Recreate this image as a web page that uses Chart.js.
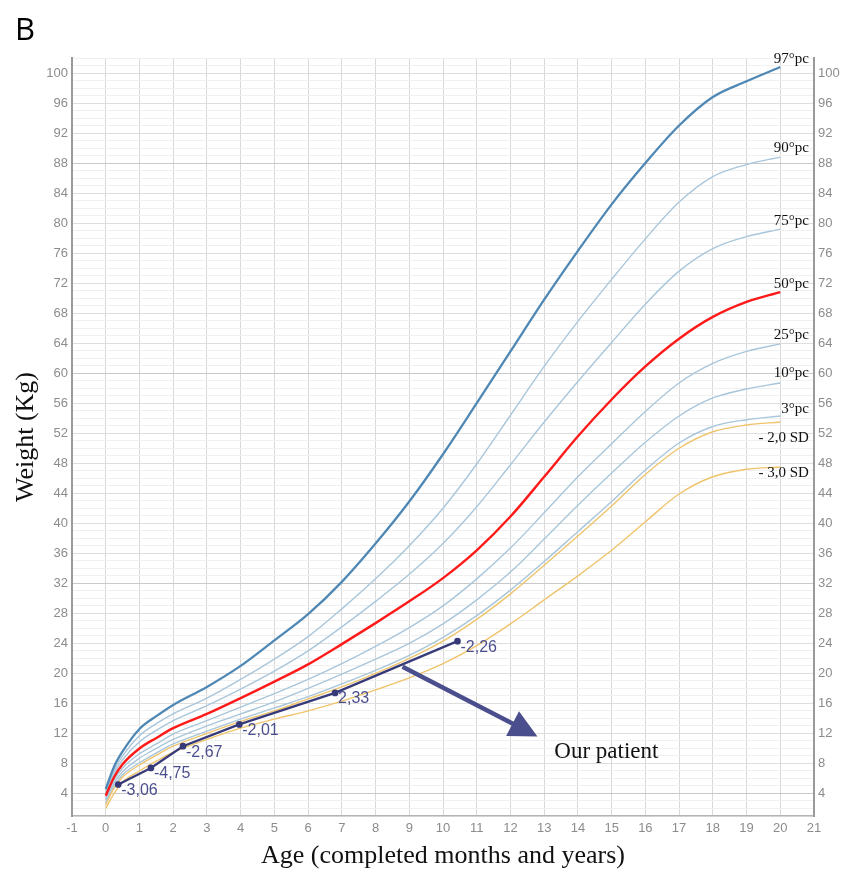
<!DOCTYPE html>
<html lang="en">
<head>
<meta charset="UTF-8">
<title>Weight for age</title>
<script src="https://cdn.jsdelivr.net/npm/chart.js@4.4.0/dist/chart.umd.min.js"></script>
<style>
    html, body { margin: 0; padding: 0; background: #ffffff; }
    canvas { display: block; }
</style>
</head>
<body>
<canvas id="growthChart" width="843" height="872"></canvas>
<script>
    // reference curves, kg by age (years)
    const ages = [0, 0.25, 0.5, 1, 1.5, 2, 3, 4, 5, 6, 7, 8, 9, 10, 11, 12, 13, 14, 15, 16, 17, 18, 19, 20];
    const p97  = [4.6, 7.6, 9.6, 12.6, 14.3, 15.8, 18.2, 21.0, 24.4, 27.9, 32.2, 37.3, 42.9, 49.2, 56.0, 62.9, 69.8, 76.3, 82.5, 88.0, 93.0, 96.8, 98.9, 100.8];
    const p90  = [4.3, 7.1, 9.0, 11.7, 13.3, 14.6, 16.7, 19.2, 21.9, 24.9, 28.6, 32.6, 37.0, 42.0, 47.9, 54.4, 60.9, 66.9, 72.5, 77.9, 82.8, 86.2, 87.8, 88.8];
    const p75  = [4.0, 6.7, 8.5, 10.9, 12.4, 13.7, 15.7, 17.9, 20.3, 23.0, 26.2, 29.6, 33.2, 37.3, 42.2, 47.8, 53.5, 58.9, 64.1, 69.2, 73.6, 76.6, 78.2, 79.2];
    const p50  = [3.7, 6.2, 7.9, 10.0, 11.4, 12.7, 14.6, 16.7, 18.9, 21.2, 23.9, 26.7, 29.6, 32.7, 36.4, 40.9, 46.2, 51.6, 56.5, 60.9, 64.6, 67.5, 69.5, 70.8];
    const p25  = [3.4, 5.8, 7.4, 9.3, 10.6, 11.9, 13.7, 15.5, 17.3, 19.2, 21.3, 23.6, 26.1, 29.0, 32.6, 36.7, 41.4, 46.2, 50.6, 54.9, 58.7, 61.3, 62.9, 63.9];
    const p10  = [3.1, 5.4, 6.9, 8.7, 10.0, 11.2, 13.0, 14.6, 16.2, 18.0, 19.9, 21.9, 24.0, 26.6, 29.8, 33.5, 37.9, 42.4, 46.7, 50.8, 54.3, 56.7, 57.9, 58.7];
    const p3   = [2.8, 5.0, 6.5, 8.1, 9.4, 10.6, 12.3, 13.9, 15.4, 16.9, 18.6, 20.4, 22.4, 24.8, 27.7, 31.1, 34.9, 38.9, 42.9, 47.1, 50.7, 52.9, 53.8, 54.3];
    const sdm2 = [2.5, 4.7, 6.2, 7.8, 9.1, 10.3, 12.0, 13.6, 15.0, 16.6, 18.2, 20.0, 22.0, 24.3, 27.2, 30.6, 34.4, 38.3, 42.3, 46.5, 50.0, 52.2, 53.1, 53.5];
    const sdm3 = [2.0, 4.0, 5.5, 7.0, 8.3, 9.5, 11.2, 12.7, 13.9, 15.0, 16.3, 17.8, 19.4, 21.3, 23.7, 26.6, 29.8, 33.0, 36.4, 40.2, 43.9, 46.2, 47.2, 47.5];
    const curveNames = ["97°pc", "90°pc", "75°pc", "50°pc", "25°pc", "10°pc", "3°pc", "- 2,0 SD", "- 3,0 SD"];

    // patient measurements
    const patientAge = [0.37, 1.34, 2.29, 3.96, 6.8, 10.43];
    const patientWeight = [5.2, 7.4, 10.3, 13.2, 17.4, 24.3];
    const patientSds = ["-3,06", "-4,75", "-2,67", "-2,01", "2,33", "-2,26"];

    // arrow pointing to the patient line (age, kg)
    const arrowFrom = [8.8, 20.9];
    const arrowTo = [12.8, 11.6];
    const arrowText = "Our patient";
    const arrowTextAt = [13.3, 9.6];

    const curves = [p97, p90, p75, p50, p25, p10, p3, sdm2, sdm3];
    const LIGHT = "#a9c6db";
    const YELLOW = "#efc46c";
    const curveStyle = [
        { color: "#4f88b4", width: 2.3, order: 3 },
        { color: LIGHT, width: 1.4, order: 6 },
        { color: LIGHT, width: 1.4, order: 6 },
        { color: "#ff1a1a", width: 2.4, order: 2 },
        { color: LIGHT, width: 1.4, order: 6 },
        { color: LIGHT, width: 1.4, order: 6 },
        { color: LIGHT, width: 1.4, order: 6 },
        { color: YELLOW, width: 1.4, order: 5 },
        { color: YELLOW, width: 1.4, order: 5 }
    ];
    // vertical nudge (px) of the name at the end of each curve
    const nameDy = [-8, -9, -8, -8, -9, -10, -7, 16, 6];

    const toPts = (xs, ys) => xs.map((a, i) => ({ x: a, y: ys[i] }));

    const datasets = curves.map((vals, i) => ({
        label: curveNames[i],
        data: toPts(ages, vals),
        borderColor: curveStyle[i].color,
        borderWidth: curveStyle[i].width,
        pointRadius: 0,
        cubicInterpolationMode: "monotone",
        order: curveStyle[i].order
    }));
    datasets.push({
        label: "Patient",
        data: toPts(patientAge, patientWeight),
        borderColor: "#363a78",
        backgroundColor: "#363a78",
        borderWidth: 2.3,
        pointRadius: 2.2,
        tension: 0,
        order: 1
    });

    const tickFont = { family: "'Liberation Sans', Arial, sans-serif", size: 13 };
    const serif = "'Liberation Serif', 'Times New Roman', serif";

    const yTicks = {
        stepSize: 1,
        autoSkip: false,
        color: "#8c8c8c",
        font: tickFont,
        padding: 4,
        callback: v => (v % 4 === 0 && v >= 4 && v <= 100) ? v : ""
    };

    const annotations = {
        id: "annotations",
        afterDatasetsDraw(chart) {
            const { ctx, scales: { x, y } } = chart;
            ctx.save();

            // curve names at right end
            ctx.fillStyle = "#111";
            ctx.font = "15px " + serif;
            ctx.textAlign = "right";
            ctx.textBaseline = "middle";
            curves.forEach((vals, i) => {
                const last = vals[vals.length - 1];
                ctx.fillText(curveNames[i], x.getPixelForValue(20.85), y.getPixelForValue(last) + nameDy[i]);
            });

            // SD values next to patient points
            ctx.fillStyle = "#4c4f8e";
            ctx.font = "16px 'Liberation Sans', Arial, sans-serif";
            ctx.textAlign = "left";
            patientAge.forEach((a, i) => {
                ctx.fillText(patientSds[i], x.getPixelForValue(a) + 3, y.getPixelForValue(patientWeight[i]) + 6);
            });

            // arrow
            const x0 = x.getPixelForValue(arrowFrom[0]), y0 = y.getPixelForValue(arrowFrom[1]);
            const x1 = x.getPixelForValue(arrowTo[0]), y1 = y.getPixelForValue(arrowTo[1]);
            const len = Math.hypot(x1 - x0, y1 - y0);
            const ux = (x1 - x0) / len, uy = (y1 - y0) / len;
            const head = 28, half = 14;
            const bx = x1 - ux * head, by = y1 - uy * head;
            ctx.strokeStyle = "#4a4e8c";
            ctx.fillStyle = "#4a4e8c";
            ctx.lineWidth = 4.5;
            ctx.beginPath();
            ctx.moveTo(x0, y0);
            ctx.lineTo(bx + ux * 2, by + uy * 2);
            ctx.stroke();
            ctx.beginPath();
            ctx.moveTo(x1, y1);
            ctx.lineTo(bx - uy * half, by + ux * half);
            ctx.lineTo(bx + uy * half, by - ux * half);
            ctx.closePath();
            ctx.fill();

            ctx.fillStyle = "#111";
            ctx.font = "23px " + serif;
            ctx.textAlign = "left";
            ctx.fillText(arrowText, x.getPixelForValue(arrowTextAt[0]), y.getPixelForValue(arrowTextAt[1]));

            // panel letter
            ctx.font = "31px 'Open Sans', sans-serif";
            ctx.fillStyle = "#000";
            ctx.textBaseline = "alphabetic";
            ctx.fillText("B", 15, 40);
            ctx.restore();
        }
    };

    new Chart(document.getElementById("growthChart"), {
        type: "line",
        data: { datasets: datasets },
        options: {
            responsive: false,
            animation: false,
            layout: { padding: { top: 58, right: 0, bottom: 0, left: 0 } },
            plugins: {
                legend: { display: false },
                tooltip: { enabled: false }
            },
            scales: {
                x: {
                    type: "linear",
                    min: -1,
                    max: 21,
                    afterFit: s => { s.height = 56; },
                    ticks: { stepSize: 1, color: "#8c8c8c", font: tickFont, padding: 5, maxRotation: 0, autoSkip: false },
                    grid: { color: "#d9d9d9", lineWidth: 1, drawTicks: false },
                    border: { color: "#b5b5b5", width: 1.5 },
                    title: {
                        display: true,
                        text: "Age (completed months and years)",
                        color: "#111",
                        font: { family: serif, size: 26 },
                        padding: { top: 0, bottom: 0 }
                    }
                },
                y: {
                    type: "linear",
                    position: "left",
                    min: 1,
                    max: 102,
                    afterFit: s => { s.width = 72; },
                    ticks: yTicks,
                    grid: {
                        drawTicks: false,
                        color: c => {
                            const v = c.tick.value;
                            if ((v - 4) % 28 === 0) return "#c9c9c9";
                            if (v % 4 === 0) return "#dedede";
                            return "#f0f0f0";
                        }
                    },
                    border: { color: "#9a9a9a", width: 2 },
                    title: {
                        display: true,
                        text: "Weight (Kg)",
                        color: "#111",
                        font: { family: serif, size: 26 },
                        padding: { top: 11, bottom: 0 }
                    }
                },
                y2: {
                    type: "linear",
                    position: "right",
                    min: 1,
                    max: 102,
                    afterFit: s => { s.width = 29; },
                    ticks: yTicks,
                    grid: { display: false, drawTicks: false },
                    border: { color: "#9a9a9a", width: 2 }
                }
            }
        },
        plugins: [annotations]
    });
</script>
</body>
</html>
